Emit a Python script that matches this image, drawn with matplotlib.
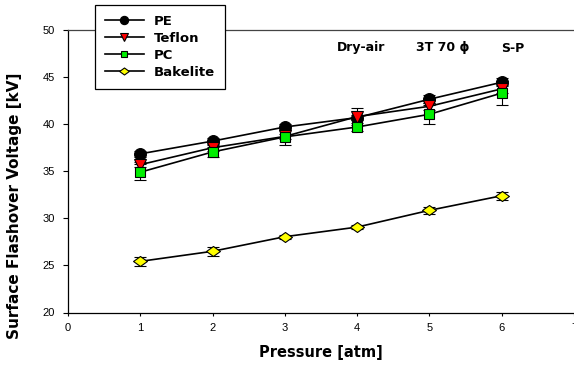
import matplotlib
matplotlib.use("Agg")
import matplotlib.pyplot as plt
from matplotlib.path import Path
import numpy as np

pressure = [1, 2, 3, 4, 5, 6]
pe = [36.85, 38.2, 39.7, 40.7, 42.65, 44.45]
pe_err = [0.3, 0.3, 0.3, 0.3, 0.4, 0.4]
teflon = [35.7, 37.5, 38.7, 40.8, 41.9, 43.75]
teflon_err = [0.3, 0.3, 0.3, 0.9, 0.4, 0.4]
pc = [34.9, 37.05, 38.65, 39.7, 41.05, 43.3]
pc_err = [0.85, 0.5, 0.85, 0.4, 1.0, 1.3]
bakelite = [25.43, 26.5, 28.05, 29.07, 30.85, 32.4]
bakelite_err = [0.5, 0.5, 0.2, 0.2, 0.4, 0.4]

x_ticks = [0, 1, 2, 3, 4, 5, 6, 7]
y_ticks = [20, 25, 30, 35, 40, 45, 50]

plt.rcParams['font.family'] = ['DejaVu Sans']

fig = plt.figure(figsize=(5.74, 3.65), dpi=100)
ax = fig.add_axes([68 / 574, 52.5 / 365, (574 - 68) / 574, 282.5 / 365])

diamond = Path([(-1, 0), (0, 0.72), (1, 0), (0, -0.72), (-1, 0)],
               [Path.MOVETO, Path.LINETO, Path.LINETO, Path.LINETO, Path.CLOSEPOLY])

series = [
    ("PE", pe, pe_err, 'o', 'black', 8.5),
    ("Teflon", teflon, teflon_err, 'v', 'red', 8),
    ("PC", pc, pc_err, 's', '#00ee00', 7),
    ("Bakelite", bakelite, bakelite_err, diamond, '#ffff00', 10),
]

handles = []
for name, vals, err, mk, col, ms in series:
    ax.errorbar(pressure, vals, yerr=err, fmt='none', ecolor='black',
                elinewidth=0.8, capsize=4, capthick=0.8, zorder=2)
    h, = ax.plot(pressure, vals, color='black', lw=1.2, marker=mk,
                 markerfacecolor=col, markeredgecolor='black',
                 markeredgewidth=0.8, markersize=ms, label=name, zorder=3)
    handles.append(h)

ax.set_xlim(0, 7)
ax.set_ylim(20, 50)
ax.set_xticks(x_ticks)
ax.set_yticks(y_ticks)
ax.tick_params(axis='both', direction='out', width=0.8, labelsize=8, colors='black')
ax.tick_params(axis='x', length=2.5, pad=5)
ax.tick_params(axis='y', length=3.5, pad=6)
for lab in ax.get_xticklabels() + ax.get_yticklabels():
    lab.set_family('Liberation Sans')
for s in ['left', 'bottom', 'top']:
    ax.spines[s].set_linewidth(0.9)
    ax.spines[s].set_color('black')
ax.spines['top'].set_color('#444444')
ax.spines['right'].set_visible(False)

fig.text(321 / 574, 1 - 353 / 365, "Pressure [atm]", fontsize=10.5,
         fontweight='bold', ha='center', va='center')
fig.text(15 / 574, 1 - 206 / 365, "Surface Flashover Voltage [kV]", fontsize=11,
         fontweight='bold', rotation=90, ha='center', va='center')

leg = fig.legend(handles=handles, loc='upper left',
                 bbox_to_anchor=(95 / 574, 1 - 5 / 365),
                 prop={'weight': 'bold', 'size': 9.5},
                 frameon=True, fancybox=False, edgecolor='black',
                 handlelength=2.95, handletextpad=0.75, labelspacing=0.3,
                 borderpad=0.75, borderaxespad=0.0, framealpha=1,
                 markerscale=0.7)
leg.get_frame().set_linewidth(0.9)

fig.text(337 / 574, 1 - 48 / 365, "Dry-air", fontsize=9, fontweight='bold', va='center', ha='left')
fig.text(416 / 574, 1 - 48 / 365, "3T 70 ϕ", fontsize=9, fontweight='bold', va='center', ha='left')
fig.text(501 / 574, 1 - 48 / 365, "S-P", fontsize=9, fontweight='bold', va='center', ha='left')

fig.savefig("out.png", dpi=100)
